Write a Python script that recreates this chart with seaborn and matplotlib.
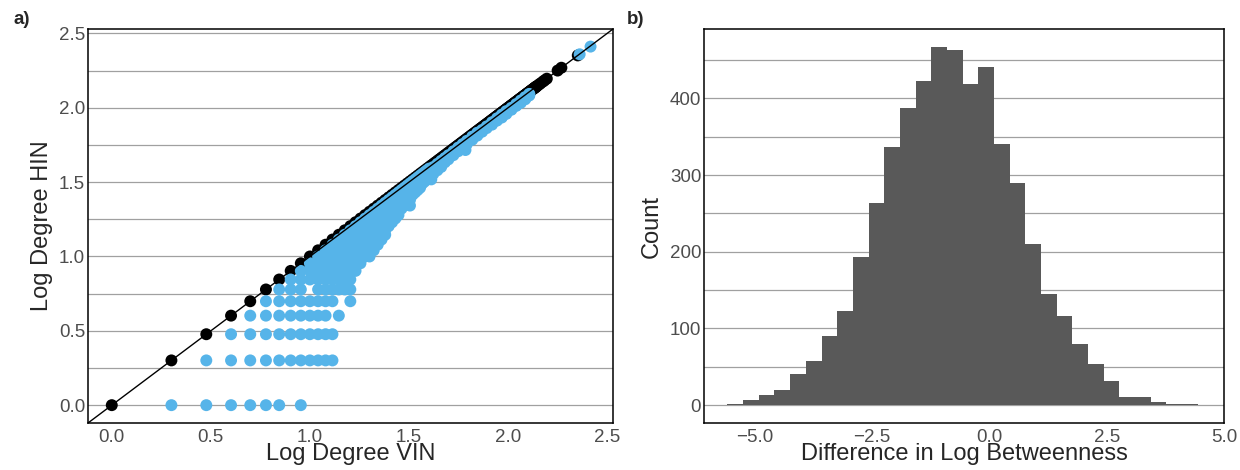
import numpy as np
import pandas as pd
import seaborn as sns
import matplotlib.pyplot as plt

# --- panel a: degree pairs (VIN degree, HIN degree) ---
# nodes whose degree is the same in both networks (drawn black)
same_deg = list(range(1, 141)) + [143, 146, 150, 153, 157, 178, 186, 225]

# nodes with lower HIN degree (drawn blue); sparse rows, HIN degree 1..6
hin1_vin = [2, 3, 4, 5, 6, 7, 9]
hin2_vin = [3, 4, 5, 6, 7, 8, 9, 10, 11, 12, 13]
hin3_vin = [4, 5, 6, 7, 8, 9, 10, 11, 12, 13]
hin4_vin = [5, 6, 7, 8, 9, 10, 11, 12, 14]
hin5_vin = [6, 7, 8, 9, 10, 11, 12, 13, 16]
hin6_vin = [7, 8, 9, 11, 12, 13, 14, 15, 16]

# dense part of the cloud: for each VIN degree, lowest and highest HIN degree
dense_vin = [8, 9, 10, 11, 12, 13, 14, 15, 16, 17, 18, 19, 20, 21, 22, 23, 24, 25,
             26, 27, 28, 29, 30, 31, 32, 33, 34, 35, 36, 37, 38, 39, 40, 42, 44, 46,
             48, 50, 53, 56, 59, 62, 66, 70, 74, 78, 83, 88, 93, 98, 104, 110, 116,
             122, 128]
dense_hin_lo = [7, 7, 7, 7, 7, 7, 7, 7, 7, 8, 9, 10, 10, 11, 12, 13, 14, 16,
                17, 18, 19, 21, 22, 23, 24, 26, 27, 28, 29, 31, 32, 33, 34, 36, 38, 40,
                43, 45, 48, 51, 54, 57, 61, 65, 69, 73, 77, 82, 86, 91, 97, 103, 108,
                114, 121]
dense_hin_hi = [7, 8, 9, 10, 11, 12, 13, 14, 15, 16, 17, 18, 19, 20, 21, 22, 23, 24,
                25, 26, 27, 28, 29, 30, 31, 32, 33, 34, 35, 36, 37, 38, 39, 40, 42, 44,
                46, 48, 51, 54, 57, 60, 64, 68, 71, 75, 80, 85, 90, 95, 100, 106, 112,
                118, 124]

# single blue points off the main cloud
extra_vin = [32, 41, 61, 230, 261]
extra_hin = [22, 33, 52, 229, 258]

# --- panel b: histogram of difference in log betweenness ---
bin_start = -5.58
bin_width = 0.334
counts = [2, 6, 13, 19, 41, 57, 90, 123, 193, 263, 337, 387, 423, 467, 463,
          419, 441, 341, 289, 210, 145, 116, 80, 54, 32, 11, 10, 4, 2, 1]

# build the point table, black first so blue is drawn on top
rows = []
for d in same_deg:
    rows.append((d, d, "same"))
for h, vins in [(1, hin1_vin), (2, hin2_vin), (3, hin3_vin),
                (4, hin4_vin), (5, hin5_vin), (6, hin6_vin)]:
    for v in vins:
        rows.append((v, h, "diff"))
for v, lo, hi in zip(dense_vin, dense_hin_lo, dense_hin_hi):
    for h in range(lo, hi + 1):
        rows.append((v, h, "diff"))
for v, h in zip(extra_vin, extra_hin):
    rows.append((v, h, "diff"))
pts = pd.DataFrame(rows, columns=["vin", "hin", "kind"])
pts["log_vin"] = np.log10(pts["vin"])
pts["log_hin"] = np.log10(pts["hin"])

edges = bin_start + bin_width * np.arange(len(counts) + 1)
hist = pd.DataFrame({"diff": (edges[:-1] + edges[1:]) / 2, "n": counts})

sns.set_style("white")
plt.rcParams["font.family"] = ["Liberation Sans", "DejaVu Sans"]

fig = plt.figure(figsize=(12.4, 4.7), dpi=100)
ax1 = fig.add_axes([88 / 1240, 47 / 470, 525 / 1240, 394 / 470])
ax2 = fig.add_axes([704 / 1240, 47 / 470, 520 / 1240, 394 / 470])

grid_col = "#A0A0A0"
tick_col = "#4D4D4D"

# panel a
sns.scatterplot(data=pts, x="log_vin", y="log_hin", hue="kind",
                palette={"same": "black", "diff": "#56B4E9"},
                s=74, linewidth=0, legend=False, ax=ax1, zorder=2)
ax1.axline((0, 0), (1, 1), color="black", lw=1.0, zorder=3)
ax1.set_xlim(-0.12, 2.53)
ax1.set_ylim(-0.12, 2.53)
ax1.set_xticks([0, 0.5, 1.0, 1.5, 2.0, 2.5])
ax1.set_yticks([0, 0.5, 1.0, 1.5, 2.0, 2.5])
ax1.set_yticks([0.25, 0.75, 1.25, 1.75, 2.25], minor=True)
ax1.set_xlabel("Log Degree VIN", fontsize=17)
ax1.set_ylabel("Log Degree HIN", fontsize=17)
ax1.xaxis.set_label_coords(0.5, -0.052)
ax1.yaxis.set_label_coords(-0.067, 0.5)

# panel b
sns.histplot(data=hist, x="diff", weights="n", bins=edges.tolist(), color="#595959",
             alpha=1, linewidth=0, ax=ax2, zorder=2)
ax2.set_xlim(-6.08, 4.94)
ax2.set_ylim(-23.4, 490.4)
ax2.set_xticks([-5, -2.5, 0, 2.5, 5])
ax2.set_yticks([0, 100, 200, 300, 400])
ax2.set_yticks([50, 150, 250, 350, 450], minor=True)
ax2.set_xlabel("Difference in Log Betweenness", fontsize=17)
ax2.set_ylabel("Count", fontsize=17)
ax2.xaxis.set_label_coords(0.5, -0.052)
ax2.yaxis.set_label_coords(-0.079, 0.5)

for ax in (ax1, ax2):
    ax.set_axisbelow(True)
    ax.yaxis.grid(True, which="both", color=grid_col, lw=0.9)
    ax.xaxis.grid(False)
    ax.tick_params(which="both", length=0, labelsize=13.5, labelcolor=tick_col)
    ax.tick_params(axis="x", pad=4)
    ax.tick_params(axis="y", pad=2)
    for sp in ax.spines.values():
        sp.set_visible(True)
        sp.set_color("black")
        sp.set_linewidth(1.1)

fig.text(13 / 1240, 1 - 19 / 470, "a)", fontsize=13.5, fontweight="bold", va="center")
fig.text(627 / 1240, 1 - 19 / 470, "b)", fontsize=13.5, fontweight="bold", va="center")

fig.savefig("out.png", dpi=100)
